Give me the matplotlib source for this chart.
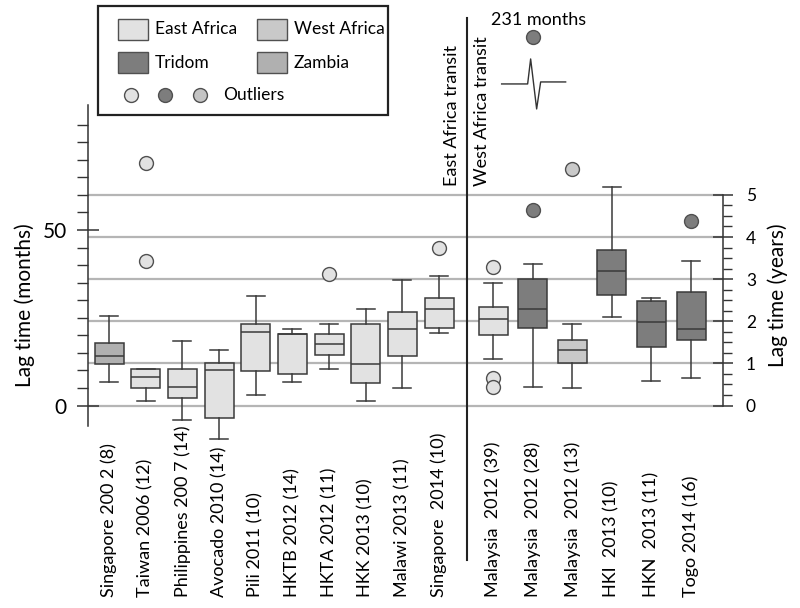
import numpy as np
import matplotlib.pyplot as plt
from matplotlib.patches import Rectangle
from matplotlib.ticker import FixedLocator
import matplotlib.transforms as mtransforms

plt.rcParams['font.family'] = ['Lato', 'DejaVu Sans']

# ---- data (months) ----
labels = ['Singapore 200 2 (8)', 'Taiwan 2006 (12)', 'Philippines 200 7 (14)',
          'Avocado 2010 (14)', 'Pili 2011 (10)', 'HKTB 2012 (14)', 'HKTA 2012 (11)',
          'HKK 2013 (10)', 'Malawi 2013 (11)', 'Singapore  2014 (10)',
          'Malaysia  2012 (39)', 'Malaysia  2012 (28)', 'Malaysia  2012 (13)',
          'HKI  2013 (10)', 'HKN  2013 (11)', 'Togo 2014 (16)']
region = ['Zambia'] + ['East Africa'] * 10 + ['Tridom', 'West Africa',
                                              'Tridom', 'Tridom', 'Tridom']
whislo = [6.7, 1.3, -4.1, -9.6, 3.1, 6.7, 10.5, 1.3, 5.0, 20.7,
          13.3, 5.2, 5.0, 25.2, 7.1, 7.9]
q1 = [11.8, 5.1, 2.2, -3.7, 9.9, 8.9, 14.5, 6.3, 14.1, 22.1,
      20.2, 22.1, 12.2, 31.4, 16.7, 18.6]
med = [14.1, 8.2, 5.3, 10.0, 20.8, 20.3, 17.4, 11.8, 21.7, 27.5,
       24.7, 27.4, 15.7, 38.3, 23.7, 21.8]
q3 = [17.9, 10.5, 10.5, 12.2, 23.2, 20.5, 20.5, 23.2, 26.7, 30.7,
      28.0, 36.1, 18.8, 44.3, 29.7, 32.4]
whishi = [25.4, 10.5, 18.4, 15.7, 31.2, 21.9, 23.1, 27.4, 35.7, 36.8,
          34.9, 40.4, 23.3, 62.2, 30.5, 41.3]
outliers = [[], [69.2, 41.1], [], [], [], [], [37.6], [], [], [44.9],
            [39.5, 7.9, 5.2], [231, 55.6], [67.4], [], [], [52.5]]

colors = {'East Africa': '#e2e2e2', 'West Africa': '#c9c9c9',
          'Tridom': '#7d7d7d', 'Zambia': '#b0b0b0'}
edge = '#3a3a3a'
break_at = 105   # values above this are drawn on the broken part of the axis

n_east = 10
pos = list(np.arange(n_east)) + list(10.47 + 1.08 * np.arange(len(labels) - n_east))
divider = 9.76

# ---- figure ----
fig = plt.figure(figsize=(8, 6.08), dpi=100)
ax = fig.add_axes([88 / 800, 0, (723 - 88) / 800, 1])
ax.patch.set_alpha(0)
ax.set_xlim(-0.573, 16.74)
ymin, ymax = (405.5 - 608) / 3.51, 405.5 / 3.51
ax.set_ylim(ymin, ymax)

for yr in range(6):
    ax.axhline(yr * 12, color='#b5b5b5', lw=1.6, zorder=0)

stats = []
for i in range(len(labels)):
    stats.append(dict(whislo=whislo[i], q1=q1[i], med=med[i], q3=q3[i],
                      whishi=whishi[i],
                      fliers=[min(v, break_at) for v in outliers[i]]))

bp = ax.bxp(stats, positions=pos, widths=0.79, capwidths=0.49,
            patch_artist=True, showfliers=True,
            boxprops=dict(edgecolor=edge, lw=1.1),
            whiskerprops=dict(color=edge, lw=1.1),
            capprops=dict(color=edge, lw=1.1),
            medianprops=dict(color=edge, lw=1.1),
            flierprops=dict(marker='o', markersize=10, markeredgecolor='#505050',
                            markeredgewidth=1.0))
for i, box in enumerate(bp['boxes']):
    box.set_facecolor(colors[region[i]])
    box.set_zorder(2)
    bp['fliers'][i].set_markerfacecolor(colors[region[i]])

# broken outlier
for i, vals in enumerate(outliers):
    for v in vals:
        if v > break_at:
            ax.annotate(f'{v} months', (pos[i], break_at), xytext=(6, 17),
                        textcoords='offset pixels', ha='center', va='center',
                        fontsize=13)
            anchor = ax.transData.transform((pos[i], break_at))
            zx = [-31, -5, -2, 4, 8, 33]
            zy = [-47, -47, -22, -72, -45, -45]
            tr = mtransforms.Affine2D().translate(*anchor)
            ax.plot(zx, zy, color='#333333', lw=1.0, transform=tr, clip_on=False)

# axes / spines
for s in ['top', 'bottom', 'right']:
    ax.spines[s].set_visible(False)
ax.spines['left'].set_bounds(-5.9, 85.5)
ax.spines['left'].set_linewidth(1.1)
ax.spines['left'].set_color('#333333')
ax.set_xticks([])
ax.yaxis.set_major_locator(FixedLocator([0, 50]))
ax.yaxis.set_minor_locator(FixedLocator([m for m in range(5, 85, 5) if m != 50]))
ax.tick_params(axis='y', which='major', direction='inout', length=16.5, width=1.1,
               labelsize=15, pad=7, color='#333333')
ax.tick_params(axis='y', which='minor', direction='out', length=8, width=1.0,
               color='#333333')

ax2 = ax.twinx()
ax2.set_ylim(ymin / 12, ymax / 12)
for s in ['top', 'bottom', 'left']:
    ax2.spines[s].set_visible(False)
ax2.spines['right'].set_bounds(0, 5)
ax2.spines['right'].set_linewidth(1.1)
ax2.spines['right'].set_color('#333333')
ax2.yaxis.set_major_locator(FixedLocator(range(6)))
ax2.yaxis.set_minor_locator(FixedLocator(np.arange(0, 5.01, 0.25)))
ax2.tick_params(axis='y', which='major', direction='inout', length=15, width=1.1,
                labelsize=12.5, pad=9, color='#333333')
ax2.tick_params(axis='y', which='minor', direction='out', length=6.5, width=1.0,
                color='#333333')

# divider and group labels
ax.axvline(divider, ymin=1 - 560 / 608, ymax=1 - 18 / 608, color='#222222', lw=1.5)
xt = ax.get_xaxis_transform()
ax.text(divider - 0.41, 1 - 186 / 608, 'East Africa transit', transform=xt,
        rotation=90, ha='center', va='bottom', fontsize=13)
ax.text(divider + 0.41, 1 - 186 / 608, 'West Africa transit', transform=xt,
        rotation=90, ha='center', va='bottom', fontsize=13)

for p, lab in zip(pos, labels):
    ax.text(p, 1 - 597 / 608, lab, transform=xt, rotation=90, ha='center',
            va='bottom', fontsize=13)

fig.text(25 / 800, 1 - 305 / 608, 'Lag time (months)', rotation=90,
         ha='center', va='center', fontsize=15)
fig.text(778 / 800, 1 - 295 / 608, 'Lag time (years)', rotation=90,
         ha='center', va='center', fontsize=15)

# legend drawn by hand
ov = fig.add_axes([0, 0, 1, 1])
ov.set_xlim(0, 800)
ov.set_ylim(608, 0)
ov.axis('off')
ov.add_patch(Rectangle((98, 6), 290, 109, fill=False, lw=1.6, ec='#222222'))
leg = [('East Africa', 118, 19), ('West Africa', 257, 19),
       ('Tridom', 118, 52), ('Zambia', 257, 52)]
for name, lx, ly in leg:
    ov.add_patch(Rectangle((lx, ly), 30, 21, fc=colors[name], ec='#505050', lw=1.0))
    ov.text(lx + 37, ly + 10.5, name, va='center', ha='left', fontsize=12.5)
for cx, c in zip([131, 165, 200], ['#e2e2e2', '#7d7d7d', '#c4c4c4']):
    ov.plot(cx, 95, 'o', ms=10, mfc=c, mec='#505050', mew=1.0)
ov.text(223, 95, 'Outliers', va='center', ha='left', fontsize=12.5)

fig.savefig('out.png', dpi=100)
